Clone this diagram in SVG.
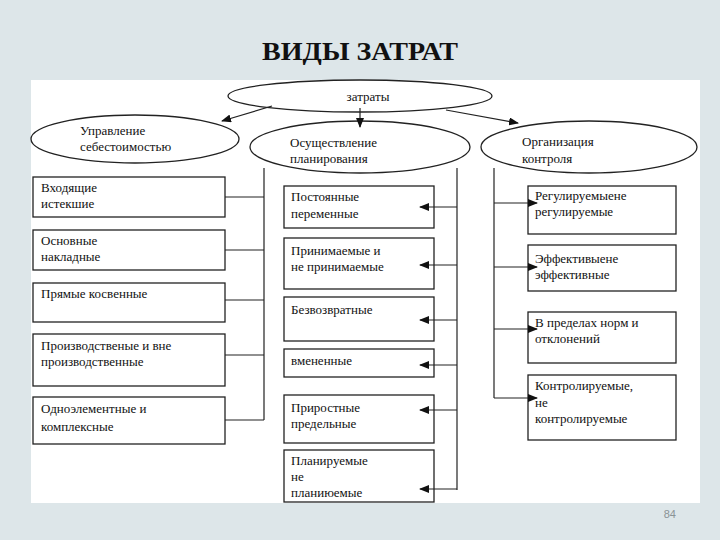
<svg xmlns="http://www.w3.org/2000/svg" width="720" height="540" viewBox="0 0 720 540">
<style>
.t{font-family:"Liberation Serif","DejaVu Serif",serif;font-size:13px;fill:#111}
.b{fill:#fff;stroke:#222;stroke-width:1.3}
.l{stroke:#222;stroke-width:1.2;fill:none}
.a{stroke:#222;stroke-width:1.2;fill:none;marker-end:url(#ah)}
</style>
<defs><marker id="ah" markerWidth="10" markerHeight="8" refX="9" refY="4" orient="auto" markerUnits="userSpaceOnUse"><path d="M0,0 L10,4 L0,8 Z" fill="#111"/></marker></defs>
<rect width="720" height="540" fill="#dde6e9"/>
<rect x="31" y="80" width="669" height="423" fill="#fff"/>
<text x="360" y="60" text-anchor="middle" font-family="Liberation Serif,serif" font-weight="bold" font-size="25" fill="#111" textLength="196" lengthAdjust="spacingAndGlyphs">ВИДЫ ЗАТРАТ</text>
<text x="676" y="518" text-anchor="end" font-family="Liberation Sans,sans-serif" font-size="11" fill="#8a9396">84</text>
<g id="n0"><ellipse class="b" cx="360" cy="96" rx="132" ry="16"/><text class="t" x="368" y="101" text-anchor="middle">затраты</text></g>
<g id="n1"><ellipse class="b" cx="135" cy="139" rx="104" ry="24"/><text class="t" x="80" y="135">Управление</text><text class="t" x="80" y="151">себестоимостью</text></g>
<g id="n2"><ellipse class="b" cx="360" cy="147" rx="110" ry="26"/><text class="t" x="290" y="147">Осуществление</text><text class="t" x="290" y="163">планирования</text></g>
<g id="n3"><ellipse class="b" cx="589" cy="147" rx="108" ry="26"/><text class="t" x="522" y="146">Организация</text><text class="t" x="522" y="163">контроля</text></g>
<g id="l1"><rect class="b" x="33" y="177" width="192" height="40"/><text class="t" x="41" y="192">Входящие</text><text class="t" x="41" y="208">истекшие</text></g>
<g id="l2"><rect class="b" x="33" y="230" width="192" height="40"/><text class="t" x="41" y="245">Основные</text><text class="t" x="41" y="261">накладные</text></g>
<g id="l3"><rect class="b" x="33" y="283" width="192" height="39"/><text class="t" x="41" y="298">Прямые косвенные</text></g>
<g id="l4"><rect class="b" x="33" y="334" width="192" height="52"/><text class="t" x="41" y="350">Производственые и вне</text><text class="t" x="41" y="366">производственные</text></g>
<g id="l5"><rect class="b" x="33" y="397" width="192" height="47"/><text class="t" x="41" y="413">Одноэлементные и</text><text class="t" x="41" y="431">комплексные</text></g>
<g id="m1"><rect class="b" x="284" y="186" width="150" height="42"/><text class="t" x="291" y="201">Постоянные</text><text class="t" x="291" y="218">переменные</text></g>
<g id="m2"><rect class="b" x="284" y="238" width="150" height="51"/><text class="t" x="291" y="255">Принимаемые и</text><text class="t" x="291" y="271">не принимаемые</text></g>
<g id="m3"><rect class="b" x="284" y="297" width="150" height="44"/><text class="t" x="291" y="314">Безвозвратные</text></g>
<g id="m4"><rect class="b" x="284" y="349" width="150" height="28"/><text class="t" x="291" y="365">вмененные</text></g>
<g id="m5"><rect class="b" x="284" y="395" width="150" height="48"/><text class="t" x="291" y="412">Приростные</text><text class="t" x="291" y="428">предельные</text></g>
<g id="m6"><rect class="b" x="284" y="450" width="150" height="52"/><text class="t" x="291" y="465">Планируемые</text><text class="t" x="291" y="481">не</text><text class="t" x="291" y="497">планиюемые</text></g>
<g id="r1"><rect class="b" x="528" y="186" width="148" height="48"/><text class="t" x="535" y="200">Регулируемыене</text><text class="t" x="535" y="216">регулируемые</text></g>
<g id="r2"><rect class="b" x="528" y="245" width="148" height="46"/><text class="t" x="535" y="263">Эффективыене</text><text class="t" x="535" y="279">эффективные</text></g>
<g id="r3"><rect class="b" x="528" y="312" width="148" height="51"/><text class="t" x="535" y="327">В  пределах норм и</text><text class="t" x="535" y="343">отклонений</text></g>
<g id="r4"><rect class="b" x="528" y="375" width="148" height="65"/><text class="t" x="535" y="390">Контролируемые,</text><text class="t" x="535" y="407">не</text><text class="t" x="535" y="423">контролируемые</text></g>
<g id="connectors">
<path class="a" d="M272,106 L222,121"/>
<path class="a" d="M360,108 L360,127"/>
<path class="a" d="M446,110 L518,123"/>
<path class="l" d="M264,168 V420 M225,197 H264 M225,250 H264 M225,300 H264 M225,355 H264 M225,420 H264"/>
<path class="l" d="M457,168 V490"/>
<path class="a" d="M457,207 H420"/>
<path class="a" d="M457,265 H420"/>
<path class="a" d="M457,320 H420"/>
<path class="a" d="M457,365 H420"/>
<path class="a" d="M457,410 H420"/>
<path class="a" d="M457,489 H420"/>
<path class="l" d="M494,168 V398"/>
<path class="a" d="M494,203 H537"/>
<path class="a" d="M494,267 H537"/>
<path class="a" d="M494,329 H537"/>
<path class="a" d="M494,398 H537"/>
</g>
</svg>
